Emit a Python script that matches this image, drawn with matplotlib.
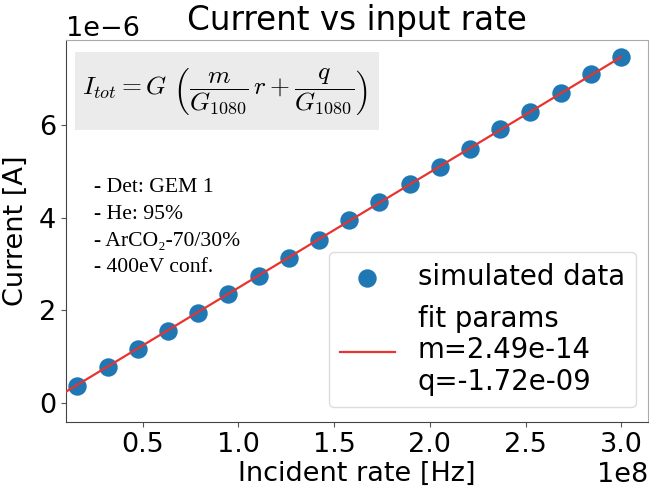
import numpy as np
import matplotlib
matplotlib.use("Agg")
import matplotlib.pyplot as plt
from matplotlib.patches import Rectangle

# ---- data ----
rate = [0.158e8, 0.316e8, 0.474e8, 0.632e8, 0.789e8, 0.947e8, 1.105e8, 1.263e8,
        1.421e8, 1.579e8, 1.737e8, 1.895e8, 2.053e8, 2.211e8, 2.368e8, 2.526e8,
        2.684e8, 2.842e8, 3.000e8]
current = [0.373e-6, 0.784e-6, 1.166e-6, 1.554e-6, 1.949e-6, 2.346e-6, 2.741e-6,
           3.123e-6, 3.518e-6, 3.950e-6, 4.332e-6, 4.720e-6, 5.100e-6, 5.489e-6,
           5.908e-6, 6.288e-6, 6.685e-6, 7.095e-6, 7.475e-6]
fit_m = 2.49e-14
fit_q = -1.72e-09
xticks = [0.5e8, 1.0e8, 1.5e8, 2.0e8, 2.5e8, 3.0e8]
yticks = [0, 2e-6, 4e-6, 6e-6]
info_lines = ["- Det: GEM 1", "- He: 95%", "- ArCO\u2082-70/30%", "- 400eV conf."]

plt.rcParams["mathtext.fontset"] = "cm"

W, H = 649, 488
fig = plt.figure(figsize=(W / 100, H / 100), dpi=100)
L, R, T, B = 66, 648, 40, 422
ax = fig.add_axes([L / W, 1 - B / H, (R - L) / W, (B - T) / H])

FS = 19.5
xlo, xhi = 0.099e8, 3.14e8
ax.set_xlim(xlo, xhi)
ax.set_ylim(-0.41e-6, 7.835e-6)

ax.scatter(rate, current, s=150, color="#1f77b4", zorder=3, label="simulated data")
xf = np.array([xlo, rate[-1]])
ax.plot(xf, fit_m * xf + fit_q, color="#e8332f", lw=1.6, zorder=4,
        label="fit params\nm=%.2e\nq=%.2e" % (fit_m, fit_q))

ax.set_xticks(xticks)
ax.set_yticks(yticks)
ax.tick_params(labelsize=FS, length=3.5, color="#555555")
ax.xaxis.get_offset_text().set_fontsize(FS)
ax.yaxis.get_offset_text().set_fontsize(FS)
ax.set_xlabel("Incident rate [Hz]", fontsize=FS, labelpad=2)
ax.set_ylabel("Current [A]", fontsize=FS, labelpad=7)
ax.set_title("Current vs input rate", fontsize=23.5, pad=7)

for side in ["left", "bottom"]:
    ax.spines[side].set_color("#444444")
for side in ["top", "right"]:
    ax.spines[side].set_color("#aaaaaa")

leg = ax.legend(loc="lower right", fontsize=19.8, scatterpoints=1,
                bbox_to_anchor=((636 - L) / (R - L), (B - 407) / (B - T)),
                borderaxespad=0, labelspacing=0.5, handletextpad=0.85,
                framealpha=1, edgecolor="#dddddd")
for t in leg.get_texts():
    t.set_linespacing(1.17)

# formula box
rx0, ry0 = (75 - L) / (R - L), (B - 130) / (B - T)
rw, rh = (379 - 75) / (R - L), (130 - 52) / (B - T)
ax.add_patch(Rectangle((rx0, ry0), rw, rh, transform=ax.transAxes,
                       facecolor="#ebebeb", edgecolor="none", zorder=2))
ax.text((225 - L) / (R - L), (B - 92) / (B - T),
        r"$I_{tot} = G\ \left(\dfrac{m}{G_{1080}}\,r + \dfrac{q}{G_{1080}}\right)$",
        transform=ax.transAxes, ha="center", va="center", fontsize=18.5, zorder=5)

# info text
for i, line in enumerate(info_lines):
    ax.text((94 - L) / (R - L), (B - (188 + 26.5 * i)) / (B - T), line,
            transform=ax.transAxes, ha="left", va="center", fontsize=15.6,
            family=["Liberation Serif", "DejaVu Serif"], zorder=5)

fig.savefig("out.png", dpi=100)
